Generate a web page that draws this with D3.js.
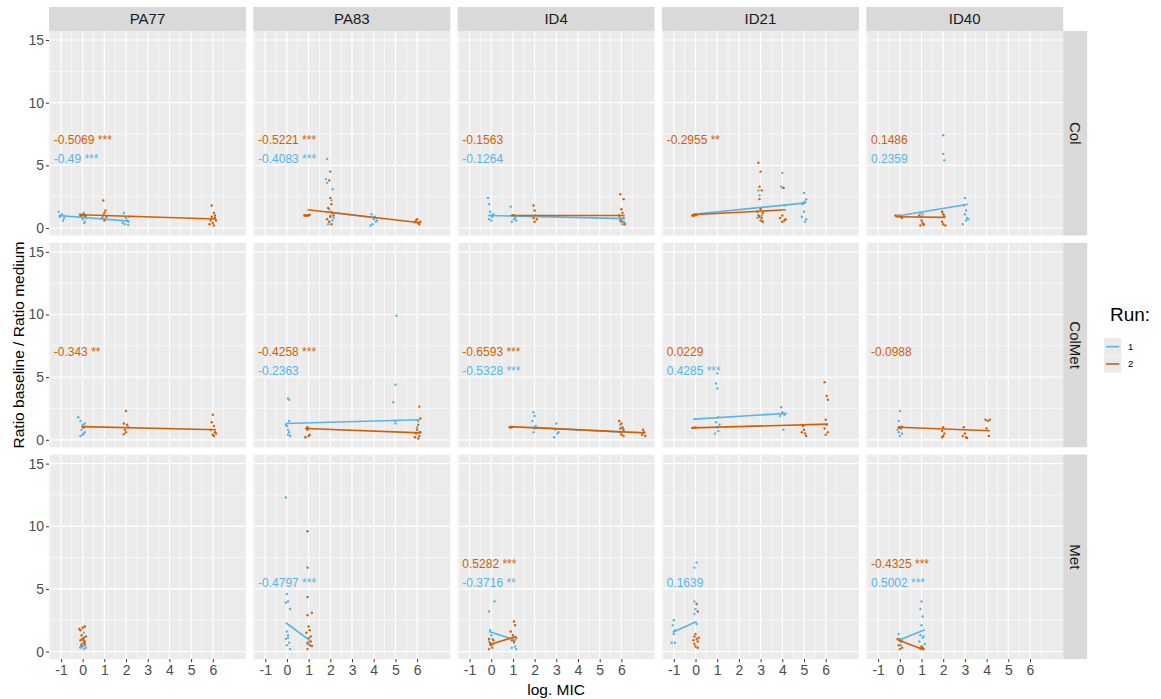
<!DOCTYPE html>
<html>
<head>
	<meta charset="utf-8">
	<title> ratio vs log MIC </title>
	<script src="https://d3js.org/d3.v7.min.js"></script>
	<style>
		body { margin: 0; background: #fff; }
		text { font-family: "Liberation Sans", Arial, sans-serif; }
	</style>
</head>
<body>
	<svg width="1161" height="699"></svg>
	<script type="text/javascript">
		// facet levels and tick labels
		let strains = ["PA77", "PA83", "ID4", "ID21", "ID40"];
		let treatments = ["Col", "ColMet", "Met"];
		let runLevels = ["1", "2"];
		let runColors = ["#56B4E9", "#D55E00"];
		let xTickValues = [-1, 0, 1, 2, 3, 4, 5, 6];
		let yTickValues = [0, 5, 10, 15];

		// points: [strain, run, [[logMIC, ratio], ...]]
		let colPoints = [
			["PA77", 1, [[-1.1,1.3],[-1.05,0.9],[-0.95,1.1],[-0.9,0.6],[-1.0,1.0],[-0.85,0.8],[-0.1,0.9],[0.05,1.2],[0.1,0.5],[0,0.7],[-0.05,1.0],[0.15,0.8],[0.08,0.4],[-0.12,1.1],[1.9,1.2],[2.0,0.8],[2.1,0.5],[1.95,0.3],[2.05,0.6],[2.15,0.9],[1.85,0.4],[2.1,0.25]]],
			["PA77", 2, [[-0.1,1.0],[0,1.05],[0.1,0.95],[0.05,1.1],[-0.05,1.0],[0.15,1.0],[0.95,2.2],[1.05,1.4],[1.0,1.2],[0.9,0.8],[1.1,0.9],[1.0,0.6],[0.95,1.0],[1.05,0.7],[5.95,1.8],[6.05,1.2],[6.1,0.8],[5.9,0.6],[6.0,0.4],[6.15,0.6],[5.85,0.3],[6.05,0.2],[6.1,1.0],[5.95,0.9]]],
			["PA83", 1, [[1.85,5.5],[1.8,3.9],[1.85,3.6],[2.1,3.1],[2.05,2.2],[1.95,1.5],[2.0,1.0],[2.1,0.6],[1.9,0.3],[2.15,0.8],[2.05,1.3],[1.95,0.5],[3.9,1.1],[4.0,0.7],[4.1,0.5],[3.95,0.3],[4.05,0.9],[4.15,0.6],[3.85,0.2]]],
			["PA83", 2, [[0.8,1.0],[0.85,1.0],[0.9,1.0],[0.95,1.0],[1.0,1.0],[1.05,1.05],[2.0,4.5],[1.95,3.8],[2.0,2.4],[2.05,1.9],[1.9,1.6],[2.1,1.2],[2.0,0.9],[1.95,0.5],[2.05,0.3],[2.15,1.0],[1.85,0.7],[5.95,0.6],[6.05,0.4],[6.1,0.3],[6.0,0.7],[6.15,0.5],[5.9,0.45]]],
			["ID4", 1, [[-0.15,2.4],[-0.1,1.9],[-0.05,1.3],[0,1.0],[0.05,0.9],[-0.1,0.7],[0.1,1.1],[0,0.6],[0.9,1.7],[1.0,1.0],[1.05,0.7],[0.95,0.5],[1.1,0.8],[1.15,0.6],[5.9,1.0],[6.0,0.7],[6.1,0.5],[6.05,0.3],[5.95,0.8],[6.15,0.4]]],
			["ID4", 2, [[1.0,1.0],[1.05,1.0],[1.95,1.8],[2.0,1.4],[2.05,1.0],[1.95,0.8],[2.0,0.5],[2.1,0.7],[5.95,2.7],[6.1,2.3],[6.0,1.5],[6.05,1.2],[5.9,1.0],[6.1,0.8],[6.0,0.5],[6.15,0.3],[5.95,0.6]]],
			["ID21", 1, [[-0.1,1.05],[0,1.1],[2.9,3.0],[2.95,2.6],[3.0,1.6],[3.05,1.0],[3.1,0.5],[2.85,0.8],[4.0,4.4],[3.95,3.3],[4.05,3.2],[4.1,1.8],[5.0,2.8],[5.1,2.3],[5.05,2.1],[4.95,1.9],[5.0,1.3],[4.9,0.9],[5.1,0.7],[5.05,0.5],[4.95,2.0]]],
			["ID21", 2, [[-0.15,1.0],[-0.1,1.0],[-0.05,1.0],[0,1.05],[0.05,1.05],[2.9,5.2],[3.0,4.5],[2.95,3.3],[3.05,3.0],[2.95,2.3],[3.0,1.5],[3.1,1.2],[2.9,1.0],[3.05,0.8],[3.0,0.6],[2.85,1.3],[3.1,0.5],[2.95,0.9],[4.05,3.2],[4.0,1.0],[3.9,0.8],[4.1,0.6],[4.0,0.5],[4.15,0.7]]],
			["ID40", 1, [[-0.1,1.0],[0,0.95],[0.95,1.2],[1.0,0.9],[1.05,1.1],[2.0,7.4],[2.0,5.9],[2.05,5.4],[1.95,1.3],[2.05,1.0],[3.0,2.4],[2.95,1.8],[3.05,1.4],[3.0,1.1],[3.1,0.8],[3.05,0.6],[2.9,0.3],[3.15,0.7]]],
			["ID40", 2, [[-0.2,1.0],[-0.1,0.95],[0,1.0],[0.05,0.9],[0.1,0.8],[0.9,1.0],[1.0,0.6],[1.05,0.4],[1.1,0.3],[0.95,0.2],[1.1,0.25],[1.95,1.3],[2.0,1.1],[2.05,0.9],[1.95,0.5],[2.0,0.3],[2.1,0.2]]]
		];
		let colMetPoints = [
			["PA77", 1, [[-0.2,1.8],[-0.1,1.5],[0,1.2],[0.05,1.0],[-0.05,0.8],[0.1,0.6],[0,0.4],[-0.1,0.3],[0.1,1.3],[0.05,0.5]]],
			["PA77", 2, [[0,1.05],[0.05,1.0],[2.0,2.3],[1.9,1.3],[2.05,1.2],[2.1,1.0],[1.95,0.8],[2.0,0.6],[1.9,0.45],[6.0,2.0],[5.95,1.4],[6.05,1.1],[5.9,0.8],[6.1,0.6],[6.0,0.4],[6.05,0.3],[6.15,0.5]]],
			["PA83", 1, [[0.05,3.3],[0.1,3.2],[0.1,1.5],[0,1.1],[0.05,0.8],[0.1,0.6],[0.05,0.4],[0.15,0.3],[-0.05,1.2],[5.05,9.9],[5.0,4.4],[4.9,3.0],[5.0,1.5],[5.0,1.3],[6.05,1.5],[6.0,1.0],[6.1,0.6]]],
			["PA83", 2, [[0.9,0.9],[0.95,0.8],[1.0,0.3],[0.85,0.2],[1.05,0.4],[0.95,1.0],[6.1,2.65],[6.15,1.7],[6.05,1.2],[6.0,0.8],[5.95,0.5],[6.1,0.3],[6.05,0.1],[5.9,0.2],[6.15,0.6]]],
			["ID4", 1, [[1.95,2.2],[2.0,1.9],[1.9,1.5],[2.05,1.1],[2.0,0.9],[1.95,0.6],[3.0,1.3],[2.95,0.8],[3.05,0.5],[2.9,0.2],[3.1,0.6],[5.95,1.2],[6.05,0.9],[6.0,0.6]]],
			["ID4", 2, [[0.85,1.0],[0.9,1.0],[0.95,1.0],[5.9,1.5],[6.0,1.3],[6.05,1.0],[6.1,0.8],[5.95,0.6],[6.0,0.4],[6.1,0.3],[5.95,0.9],[7.0,0.8],[7.05,0.6],[6.95,0.4],[7.1,0.3]]],
			["ID21", 1, [[-0.05,1.65],[1.0,5.3],[0.95,4.5],[1.0,4.1],[1.05,1.8],[0.95,1.4],[1.0,1.0],[1.05,0.7],[0.9,0.5],[1.1,1.2],[3.95,2.6],[4.0,2.2],[4.1,2.0],[3.9,1.9],[4.15,2.1],[4.05,0.8]]],
			["ID21", 2, [[-0.15,0.95],[-0.1,0.95],[0,1.0],[4.95,1.1],[5.0,0.8],[5.05,0.5],[5.1,0.3],[4.9,0.6],[5.95,4.6],[6.05,3.5],[6.1,3.2],[6.0,1.6],[6.05,1.2],[5.95,0.9],[6.1,0.6],[6.0,0.4]]],
			["ID40", 1, [[0,2.3],[-0.05,1.5],[0.05,1.0],[-0.1,0.8],[0.1,0.5],[0,0.3],[-0.05,0.6]]],
			["ID40", 2, [[-0.05,1.0],[0,0.95],[0.1,1.05],[0.05,0.9],[2.0,1.0],[1.95,0.7],[2.05,0.5],[2.0,0.3],[1.95,0.2],[2.95,1.0],[3.0,0.5],[3.05,0.2],[3.1,0.15],[2.9,0.3],[3.95,1.6],[4.05,1.5],[4.15,1.6],[4.0,0.9],[4.1,0.3]]]
		];
		let metPoints = [
			["PA77", 1, [[-0.1,0.3],[0,0.4],[0.05,0.2],[0.1,0.5],[-0.05,0.6],[0.1,2.0],[0.05,1.5],[0,1.0],[-0.1,0.35],[0.15,0.3]]],
			["PA77", 2, [[-0.15,1.8],[-0.1,1.7],[0,1.9],[0.1,2.0],[-0.05,1.3],[0.05,1.1],[0,1.0],[-0.1,0.9],[0.1,0.8],[0.05,0.7],[-0.05,0.5],[0.15,1.2],[0.02,0.95],[0.1,0.6]]],
			["PA83", 1, [[-0.05,12.3],[0,4.6],[0.05,4.0],[-0.05,3.9],[0.15,3.4],[0,1.6],[0.05,1.3],[-0.05,1.0],[0.1,0.7],[0,0.5],[0.15,0.2],[0.05,1.1],[1.0,1.1],[1.05,0.8],[0.95,0.6]]],
			["PA83", 2, [[0.95,9.6],[0.95,6.7],[0.95,4.35],[0.95,2.9],[1.15,3.1],[1.0,2.0],[1.05,1.7],[0.9,1.5],[1.1,1.2],[1.0,1.0],[0.95,0.7],[1.05,0.5],[1.15,0.45],[0.95,0.2],[1.1,0.8]]],
			["ID4", 1, [[0.15,4.0],[-0.1,3.2],[-0.05,1.7],[0,1.3],[0.05,1.0],[-0.1,0.8],[0.1,0.6],[1.0,1.0],[1.05,0.7],[1.1,0.4],[0.95,0.3],[1.15,0.2]]],
			["ID4", 2, [[-0.1,1.0],[-0.05,0.7],[0,0.5],[0.05,0.3],[-0.1,0.2],[0.1,0.9],[1.05,2.4],[1.1,2.1],[0.9,1.6],[1.0,1.3],[1.15,1.1],[0.95,0.9],[1.05,0.8]]],
			["ID21", 1, [[-1.0,2.5],[-1.05,2.1],[-0.95,1.7],[-1.1,0.7],[-0.95,0.7],[-1.0,1.4],[0.05,7.1],[-0.05,6.7],[-0.05,4.0],[0,3.4],[-0.05,3.0],[0.05,2.2]]],
			["ID21", 2, [[0.05,3.8],[0.1,3.2],[0,1.4],[-0.05,1.2],[0.05,1.0],[0.1,0.8],[-0.05,0.6],[0,0.4],[0.1,0.3],[-0.1,0.9],[0.15,1.1]]],
			["ID40", 1, [[-0.05,1.4],[0,1.0],[0.05,0.5],[0.1,0.9],[1.0,4.0],[0.95,3.4],[1.05,2.8],[1.0,2.1],[0.95,1.3],[1.1,1.2],[1.05,1.1],[1.15,0.6],[0.9,0.8]]],
			["ID40", 2, [[-0.1,1.0],[0,0.9],[0.05,0.8],[-0.05,0.5],[0.1,0.3],[0,0.2],[1.0,0.4],[1.05,0.3],[1.1,0.2],[0.95,0.25]]]
		];
		let pointsByTreatment = [colPoints, colMetPoints, metPoints];

		// fitted lines: [treatment, strain, run, x1, y1, x2, y2]
		let fitLines = [
			["Col","PA77",1,-1.1,1.0,2.15,0.55], ["Col","PA77",2,-0.1,1.05,6.15,0.72],
			["Col","PA83",1,1.8,1.3,4.15,0.8], ["Col","PA83",2,0.95,1.45,6.15,0.42],
			["Col","ID4",1,-0.15,1.0,6.15,0.75], ["Col","ID4",2,0.9,1.0,6.15,1.0],
			["Col","ID21",1,-0.1,1.1,5.1,2.0], ["Col","ID21",2,-0.15,1.05,4.15,1.45],
			["Col","ID40",1,-0.1,0.95,3.15,1.9], ["Col","ID40",2,-0.2,0.9,2.1,0.85],
			["ColMet","PA77",2,0,1.05,6.15,0.8],
			["ColMet","PA83",1,-0.05,1.3,6.1,1.6], ["ColMet","PA83",2,0.85,0.9,6.15,0.55],
			["ColMet","ID4",1,1.9,1.0,6.05,0.6], ["ColMet","ID4",2,0.85,1.05,7.1,0.55],
			["ColMet","ID21",1,-0.05,1.65,4.15,2.1], ["ColMet","ID21",2,-0.15,0.95,6.1,1.25],
			["ColMet","ID40",2,-0.05,1.0,4.15,0.72],
			["Met","PA83",1,-0.05,2.3,1.05,0.9],
			["Met","ID4",1,-0.1,1.6,1.15,0.9], ["Met","ID4",2,-0.1,0.55,1.15,1.2],
			["Met","ID21",1,-1.05,1.55,0.05,2.4],
			["Met","ID40",1,-0.05,0.9,1.15,1.75], ["Met","ID40",2,-0.1,0.95,1.1,0.15]
		];

		// correlation labels: [treatment, strain, run, text]
		let corrLabels = [
			["Col","PA77",2,"-0.5069 ***"], ["Col","PA77",1,"-0.49 ***"],
			["Col","PA83",2,"-0.5221 ***"], ["Col","PA83",1,"-0.4083 ***"],
			["Col","ID4",2,"-0.1563"], ["Col","ID4",1,"-0.1264"],
			["Col","ID21",2,"-0.2955 **"],
			["Col","ID40",2,"0.1486"], ["Col","ID40",1,"0.2359"],
			["ColMet","PA77",2,"-0.343 **"],
			["ColMet","PA83",2,"-0.4258 ***"], ["ColMet","PA83",1,"-0.2363"],
			["ColMet","ID4",2,"-0.6593 ***"], ["ColMet","ID4",1,"-0.5328 ***"],
			["ColMet","ID21",2,"0.0229"], ["ColMet","ID21",1,"0.4285 ***"],
			["ColMet","ID40",2,"-0.0988"],
			["Met","PA83",1,"-0.4797 ***"],
			["Met","ID4",2,"0.5282 ***"], ["Met","ID4",1,"-0.3716 **"],
			["Met","ID21",1,"0.1639"],
			["Met","ID40",2,"-0.4325 ***"], ["Met","ID40",1,"0.5002 ***"]
		];

		// layout
		let leftX = 49, topY = 31, pw = 197, ph = 204.5, gap = 7.3, stripH = 24;
		let svg = d3.select("svg");
		let x = d3.scaleLinear().domain([-1.55, 7.53]).range([0, pw]);
		let y = d3.scaleLinear().domain([-0.6, 15.72]).range([ph, 0]);
		let color = d3.scaleOrdinal().domain([1, 2]).range(runColors);
		let xMinor = d3.range(-1.5, 7.01, 1);
		let yMinor = [2.5, 7.5, 12.5];
		let plainNum = d => String(d);

		function draw_panel(r, c)
		{
			let treat = treatments[r], strain = strains[c];
			let g = svg.append("g").attr("transform", "translate(" + (leftX + c * (pw + gap)) + "," + (topY + r * (ph + gap)) + ")");
			g.append("rect").attr("width", pw).attr("height", ph).attr("fill", "#ebebeb");
			g.selectAll(".xmin").data(xMinor).enter().append("line")
				.attr("x1", d => x(d)).attr("x2", d => x(d)).attr("y1", 0).attr("y2", ph)
				.attr("stroke", "#fff").attr("stroke-width", 0.6);
			g.selectAll(".ymin").data(yMinor).enter().append("line")
				.attr("y1", d => y(d)).attr("y2", d => y(d)).attr("x1", 0).attr("x2", pw)
				.attr("stroke", "#fff").attr("stroke-width", 0.6);
			g.selectAll(".xmaj").data(xTickValues).enter().append("line")
				.attr("x1", d => x(d)).attr("x2", d => x(d)).attr("y1", 0).attr("y2", ph)
				.attr("stroke", "#fff").attr("stroke-width", 1.2);
			g.selectAll(".ymaj").data(yTickValues).enter().append("line")
				.attr("y1", d => y(d)).attr("y2", d => y(d)).attr("x1", 0).attr("x2", pw)
				.attr("stroke", "#fff").attr("stroke-width", 1.2);

			// points
			let sets = pointsByTreatment[r].filter(d => d[0] == strain);
			sets.forEach(function(s) {
				g.selectAll(null).data(s[2]).enter().append("circle")
					.attr("cx", d => x(d[0])).attr("cy", d => y(d[1])).attr("r", 1.2)
					.attr("fill", color(s[1]));
			});
			// fitted lines, run 1 under run 2
			fitLines.filter(d => d[0] == treat && d[1] == strain)
				.sort((a, b) => a[2] - b[2])
				.forEach(function(d) {
					g.append("line").attr("x1", x(d[3])).attr("y1", y(d[4]))
						.attr("x2", x(d[5])).attr("y2", y(d[6]))
						.attr("stroke", color(d[2])).attr("stroke-width", 1.6);
				});
			// labels
			corrLabels.filter(d => d[0] == treat && d[1] == strain).forEach(function(d) {
				g.append("text").attr("x", x(-1.33)).attr("y", y(d[2] == 2 ? 7 : 5.5))
					.attr("dy", "0.35em").attr("font-size", 12).attr("fill", color(d[2]))
					.text(d[3]);
			});

			if(r == 0)
			{
				g.append("rect").attr("y", -stripH).attr("width", pw).attr("height", stripH).attr("fill", "#d9d9d9");
				g.append("text").attr("x", pw / 2).attr("y", -stripH / 2).attr("dy", "0.36em")
					.attr("text-anchor", "middle").attr("font-size", 15).attr("fill", "#1a1a1a").text(strain);
			}
			if(c == strains.length - 1)
			{
				g.append("rect").attr("x", pw).attr("width", stripH).attr("height", ph).attr("fill", "#d9d9d9");
				g.append("text").attr("transform", "translate(" + (pw + stripH / 2) + "," + (ph / 2) + ") rotate(90)")
					.attr("dy", "0.36em").attr("text-anchor", "middle").attr("font-size", 15)
					.attr("fill", "#1a1a1a").text(treat);
			}
			if(c == 0)
			{
				let ax = g.append("g").call(d3.axisLeft(y).tickValues(yTickValues).tickFormat(plainNum).tickSize(3).tickPadding(2));
				ax.select(".domain").remove();
				ax.selectAll("line").attr("stroke", "#333");
				ax.selectAll("text").attr("font-size", 14).attr("fill", "#4d4d4d").attr("font-family", "Liberation Sans, Arial");
			}
			if(r == treatments.length - 1)
			{
				let ax = g.append("g").attr("transform", "translate(0," + ph + ")")
					.call(d3.axisBottom(x).tickValues(xTickValues).tickFormat(plainNum).tickSize(3).tickPadding(3));
				ax.select(".domain").remove();
				ax.selectAll("line").attr("stroke", "#333");
				ax.selectAll("text").attr("font-size", 14).attr("fill", "#4d4d4d").attr("font-family", "Liberation Sans, Arial");
			}
		}

		for(let r = 0; r < treatments.length; r++)
			for(let c = 0; c < strains.length; c++)
				draw_panel(r, c);

		let panelsW = strains.length * pw + (strains.length - 1) * gap;
		let panelsH = treatments.length * ph + (treatments.length - 1) * gap;
		svg.append("text").attr("x", leftX + panelsW / 2).attr("y", 695).attr("text-anchor", "middle")
			.attr("font-size", 15.5).attr("fill", "#000").text("log. MIC");
		svg.append("text").attr("transform", "translate(18," + (topY + panelsH / 2) + ") rotate(-90)")
			.attr("dy", "0.36em").attr("text-anchor", "middle").attr("font-size", 15.5)
			.attr("fill", "#000").text("Ratio baseline / Ratio medium");

		// legend
		let lg = svg.append("g").attr("transform", "translate(1104,338)");
		lg.append("text").attr("x", 6).attr("y", -17).attr("font-size", 19).attr("fill", "#000").text("Run:");
		runLevels.forEach(function(lab, i) {
			lg.append("rect").attr("y", i * 17.3).attr("width", 17.3).attr("height", 17.3).attr("fill", "#ebebeb");
			lg.append("line").attr("x1", 2).attr("x2", 15.3).attr("y1", i * 17.3 + 8.65).attr("y2", i * 17.3 + 8.65)
				.attr("stroke", runColors[i]).attr("stroke-width", 1.6);
			lg.append("text").attr("x", 24).attr("y", i * 17.3 + 8.65).attr("dy", "0.35em")
				.attr("font-size", 9.5).attr("fill", "#000").text(lab);
		});
	</script>
</body>
</html>
